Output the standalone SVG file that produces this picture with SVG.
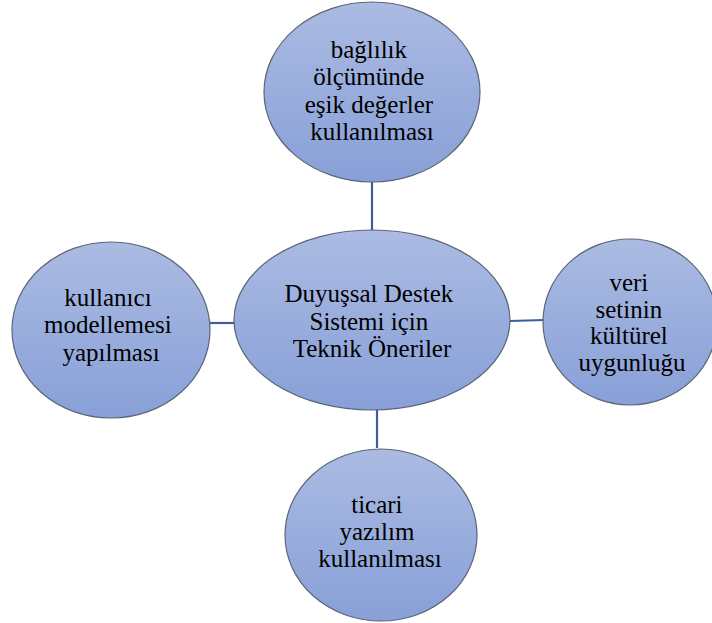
<svg xmlns="http://www.w3.org/2000/svg" width="712" height="623" viewBox="0 0 712 623">
  <defs>
    <linearGradient id="bubbleFill" x1="0" y1="0" x2="0" y2="1">
      <stop offset="0" stop-color="#abbbe2"/>
      <stop offset="1" stop-color="#88a0d8"/>
    </linearGradient>
  </defs>
  <style>
    .bubble { fill: url(#bubbleFill); stroke: #5c6577; stroke-width: 1.2; }
    .link { stroke: #3c5f9c; stroke-width: 2.2; fill: none; }
    .label { font-size: 25px; fill: #000; text-anchor: middle; }
    .serif { font-family: 'Tinos', 'Liberation Serif', 'DejaVu Serif', 'Noto Serif', 'Times New Roman', serif; }
  </style>
  <rect width="712" height="623" fill="#ffffff"/>

  <!-- spokes from the hub to each proposal -->
  <g id="connectors">
    <line class="link" x1="372" y1="182" x2="372" y2="231"/>
    <line class="link" x1="210" y1="323" x2="235" y2="323"/>
    <line class="link" x1="510" y1="321" x2="544" y2="320"/>
    <line class="link" x1="377" y1="409" x2="377" y2="448"/>
  </g>

  <g class="serif">
    <g id="node-top">
      <ellipse class="bubble" cx="372" cy="92" rx="108" ry="90"/>
      <text class="label">
        <tspan x="372" y="58">bağlılık</tspan>
        <tspan x="372" y="85">ölçümünde</tspan>
        <tspan x="372" y="113">eşik değerler</tspan>
        <tspan x="372" y="140">kullanılması</tspan>
      </text>
    </g>

    <g id="node-center">
      <ellipse class="bubble" cx="372" cy="320" rx="138" ry="90"/>
      <text class="label">
        <tspan x="372" y="302">Duyuşsal Destek</tspan>
        <tspan x="372" y="330">Sistemi için</tspan>
        <tspan x="372" y="357">Teknik Öneriler</tspan>
      </text>
    </g>

    <g id="node-left">
      <ellipse class="bubble" cx="111" cy="330" rx="99" ry="88"/>
      <text class="label">
        <tspan x="111" y="306">kullanıcı</tspan>
        <tspan x="111" y="333">modellemesi</tspan>
        <tspan x="111" y="361">yapılması</tspan>
      </text>
    </g>

    <g id="node-right">
      <ellipse class="bubble" cx="630" cy="322" rx="87" ry="83"/>
      <text class="label">
        <tspan x="632" y="291">veri</tspan>
        <tspan x="632" y="318">setinin</tspan>
        <tspan x="632" y="344">kültürel</tspan>
        <tspan x="632" y="371">uygunluğu</tspan>
      </text>
    </g>

    <g id="node-bottom">
      <ellipse class="bubble" cx="381" cy="535" rx="96" ry="86"/>
      <text class="label">
        <tspan x="380" y="513">ticari</tspan>
        <tspan x="380" y="540">yazılım</tspan>
        <tspan x="380" y="567">kullanılması</tspan>
      </text>
    </g>
  </g>
</svg>
